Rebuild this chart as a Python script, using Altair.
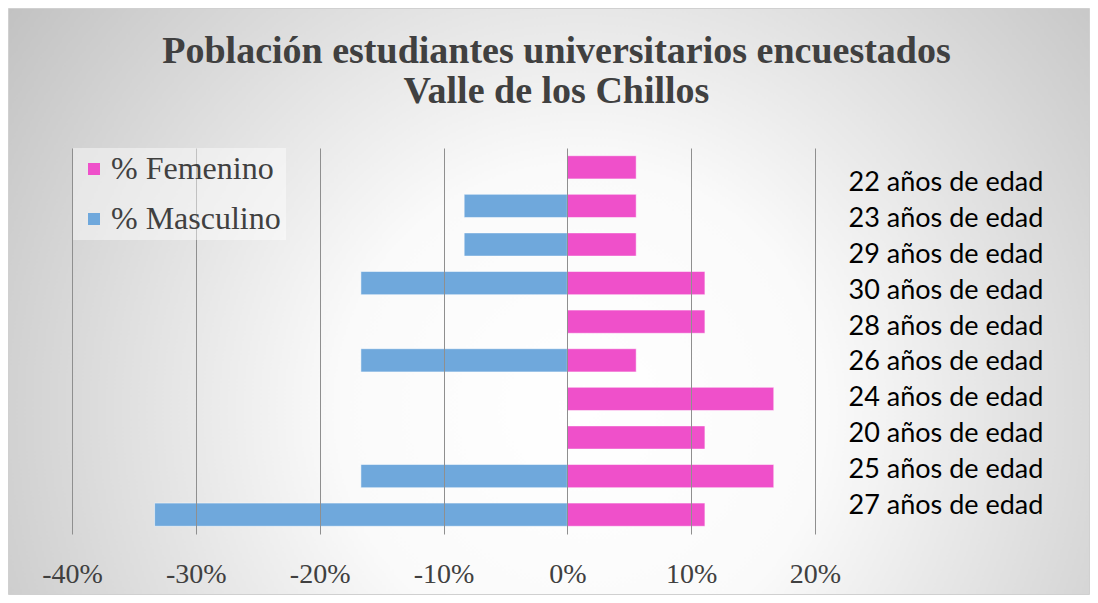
import altair as alt
import pandas as pd

ages = ["22 años de edad", "23 años de edad", "29 años de edad", "30 años de edad",
        "28 años de edad", "26 años de edad", "24 años de edad", "20 años de edad",
        "25 años de edad", "27 años de edad"]
femenino = [0.0556, 0.0556, 0.0556, 0.1111, 0.1111, 0.0556, 0.1667, 0.1111, 0.1667, 0.1111]
masculino = [0.0, -0.0833, -0.0833, -0.1667, 0.0, -0.1667, 0.0, 0.0, -0.1667, -0.3333]
series = ["% Femenino", "% Masculino"]
colors = ["#EF50CA", "#6FA8DC"]
x_ticks = [-0.4, -0.3, -0.2, -0.1, 0.0, 0.1, 0.2]

rows = []
for a, f, m in zip(ages, femenino, masculino):
    rows.append({"edad": a, "serie": series[0], "valor": f})
    rows.append({"edad": a, "serie": series[1], "valor": m})
df = pd.DataFrame(rows)

W, H = 743, 386
PL, PT, PR, PB = 64, 140, 275, 61

bg = alt.Chart(pd.DataFrame({"k": [0]})).mark_rect(
    fill=alt.RadialGradient(
        gradient="radial", x1=0.53, y1=0.6, r1=0.0, x2=0.53, y2=0.6, r2=0.75,
        stops=[alt.GradientStop(offset=0, color="#ffffff"),
               alt.GradientStop(offset=0.3, color="#fafafa"),
               alt.GradientStop(offset=1, color="#b4b4b4")]),
    stroke="#d0d0d0", strokeWidth=1, clip=False
).encode(
    x=alt.value(-PL + 0.5), x2=alt.value(W + PR - 0.5),
    y=alt.value(-PT + 0.5), y2=alt.value(H + PB - 0.5)
)

bars = alt.Chart(df).transform_filter("datum.valor != 0").mark_bar(
    stroke="#ffffff", strokeOpacity=0.5, strokeWidth=1
).encode(
    x=alt.X("valor:Q",
            scale=alt.Scale(domain=[-0.4, 0.2], nice=False, zero=False),
            axis=alt.Axis(values=x_ticks, title=None, domain=False, ticks=False,
                          labelExpr="(datum.value < 0 ? '-' : '') + format(abs(datum.value), '.0%')",
                          grid=True, gridColor="#8f8f8f", gridWidth=1, zindex=1,
                          labelFlush=False, labelOverlap=False,
                          labelFont="Liberation Serif", labelFontSize=28, labelColor="#404040",
                          labelPadding=26)),
    y=alt.Y("edad:N", sort=ages,
            scale=alt.Scale(paddingInner=0.4, paddingOuter=0.2),
            axis=None),
    color=alt.Color("serie:N",
                    scale=alt.Scale(domain=series, range=colors),
                    legend=alt.Legend(orient="none", legendX=1, legendY=0, title=None,
                                      symbolType="square", symbolSize=144,
                                      symbolStrokeWidth=0, symbolOffset=0,
                                      labelFont="Liberation Serif", labelFontSize=32,
                                      labelColor="#404040", labelLimit=300,
                                      rowPadding=18, padding=5,
                                      fillColor="rgba(255,255,255,0.45)",
                                      labelOffset=1, zindex=2)),
)

labels = alt.Chart(pd.DataFrame({"edad": ages})).mark_point(opacity=0).encode(
    y=alt.Y("edad:N", sort=ages,
            scale=alt.Scale(type="point", padding=0.89),
            axis=alt.Axis(orient="right", title=None, domain=False, ticks=False, grid=False,
                          zindex=1, labelLimit=400, labelOffset=3,
                          labelFont="Lato", labelFontSize=27, labelColor="#000000",
                          labelPadding=33, labelAlign="left")),
)

chart = alt.layer(bg, bars, labels).resolve_scale(y="independent").resolve_axis(y="independent").properties(
    width=W, height=H,
    autosize=alt.AutoSizeParams(type="none"),
    padding={"left": PL, "top": PT, "right": PR, "bottom": PB},
    title=alt.TitleParams(
        text=["Población estudiantes universitarios encuestados", "Valle de los Chillos"],
        font="Liberation Serif", fontSize=38, fontWeight="bold", color="#404040",
        anchor="middle", frame="group", dx=113, offset=-103, lineHeight=40),
).configure_view(stroke=None).configure(background="transparent")

chart.save("out.html", embed_options={"renderer": "svg", "actions": False})
